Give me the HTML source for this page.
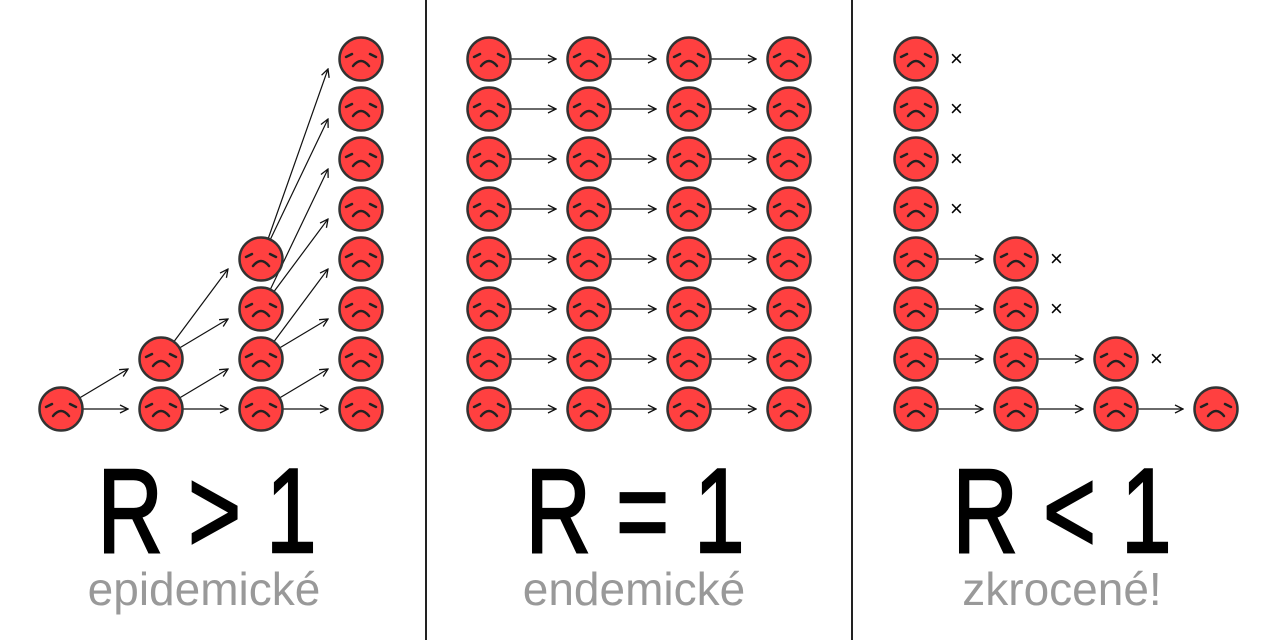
<!DOCTYPE html>
<html><head><meta charset="utf-8"><style>
html,body{margin:0;padding:0;background:#fff;width:1280px;height:640px;overflow:hidden}
svg{display:block}
</style></head><body>
<svg id="c" width="1280" height="640" xmlns="http://www.w3.org/2000/svg">
<defs>
<marker id="ah" viewBox="0 0 10 10" refX="9" refY="5" markerWidth="10" markerHeight="10" markerUnits="userSpaceOnUse" orient="auto">
<path d="M1,1 L9,5 L1,9" fill="none" stroke="#111" stroke-width="1.3"/>
</marker>
<g id="face">
<circle r="21.5" fill="#ff4040" stroke="#333" stroke-width="2.5"/>
<path d="M-15,-2 L-9,-5 M15,-2 L9,-5" stroke="#222" stroke-width="2.5" stroke-linecap="round"/>
<path d="M-8,7 Q0,-3 8,7" fill="none" stroke="#222" stroke-width="2.5" stroke-linecap="round"/>
</g>
</defs>
<line x1="426" y1="0" x2="426" y2="640" stroke="#222" stroke-width="2"/>
<line x1="852" y1="0" x2="852" y2="640" stroke="#222" stroke-width="2"/>
<g id="marks"></g>
<g font-family="Liberation Sans, sans-serif" text-anchor="middle">
<text x="207" y="552" font-size="120" stroke="#000" stroke-width="2.5" textLength="219" lengthAdjust="spacingAndGlyphs" fill="#000">R &gt; 1</text>
<text x="204" y="605" font-size="46" fill="#999">epidemické</text>
<text x="635" y="552" font-size="120" stroke="#000" stroke-width="2.5" textLength="219" lengthAdjust="spacingAndGlyphs" fill="#000">R = 1</text>
<text x="634" y="605" font-size="46" fill="#999">endemické</text>
<text x="1062" y="552" font-size="120" stroke="#000" stroke-width="2.5" textLength="219" lengthAdjust="spacingAndGlyphs" fill="#000">R &lt; 1</text>
<text x="1062" y="605" font-size="46" fill="#999">zkrocené!</text>
</g>
</svg>
<script>
// panel column x (generation) and number of infected per generation
const epiCols=[61,161,261,361];
const epiCounts=[1,2,4,8];
const endCols=[489,589,689,789];
const endCounts=[8,8,8,8];
const tamCols=[916,1016,1116,1216];
const tamCounts=[8,4,2,1];
const baseY=409, stepY=50;
const NS='http://www.w3.org/2000/svg';
const g=document.getElementById('marks');
function yOf(i){return baseY-i*stepY;}
function face(x,y,name){
  const u=document.createElementNS(NS,'use');
  u.setAttribute('href','#face');u.setAttribute('x',x);u.setAttribute('y',y);
  
  
  g.appendChild(u);
}
function arrow(x1,y1,x2,y2){
  const tx=x2-33, ty=y2+(y2<y1?10:0);
  const dx=tx-x1, dy=ty-y1, L=Math.hypot(dx,dy);
  const l=document.createElementNS(NS,'line');
  l.setAttribute('x1',x1+dx/L*22);l.setAttribute('y1',y1+dy/L*22);
  l.setAttribute('x2',tx);l.setAttribute('y2',ty);
  l.setAttribute('stroke','#111');l.setAttribute('stroke-width','1.2');
  l.setAttribute('marker-end','url(#ah)');
  
  
  g.appendChild(l);
}
function cross(x,y){
  const t=document.createElementNS(NS,'text');
  t.setAttribute('x',x+34);t.setAttribute('y',y+7);
  t.setAttribute('font-size','22');t.setAttribute('font-family','Liberation Sans, sans-serif');
  t.textContent='×';
  
  
  g.appendChild(t);
}
for(let c=0;c<epiCols.length-1;c++){
  for(let i=0;i<epiCounts[c];i++){
    arrow(epiCols[c],yOf(i),epiCols[c+1],yOf(2*i));
    arrow(epiCols[c],yOf(i),epiCols[c+1],yOf(2*i+1));
  }
}
[[endCols,endCounts],[tamCols,tamCounts]].forEach(([cols,counts],p)=>{
  for(let c=0;c<cols.length;c++){
    for(let i=0;i<counts[c];i++){
      if(c<cols.length-1 && i<counts[c+1]) arrow(cols[c],yOf(i),cols[c+1],yOf(i));
      else if(p===1 && c<cols.length-1) cross(cols[c],yOf(i));
    }
  }
});
[[epiCols,epiCounts],[endCols,endCounts],[tamCols,tamCounts]].forEach(([cols,counts])=>{
  cols.forEach((x,c)=>{for(let i=0;i<counts[c];i++) face(x,yOf(i),'infected-person');});
});
</script>
</body></html>
